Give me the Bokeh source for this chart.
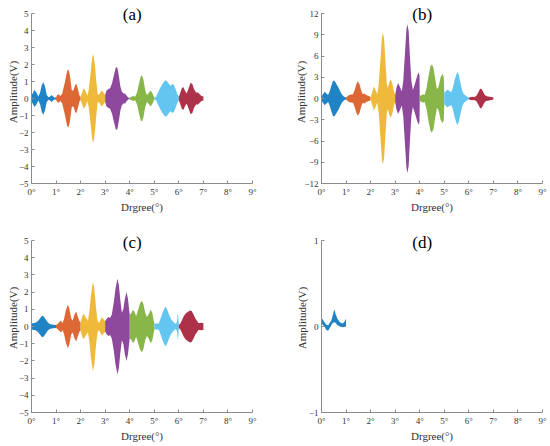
from bokeh.plotting import figure
from bokeh.models import Range1d, FixedTicker, Label
from bokeh.layouts import gridplot
from bokeh.embed import file_html
from bokeh.resources import INLINE

# ---------------- data ----------------
COLORS = ["#0072BD", "#D95319", "#EDB120", "#7E2F8E", "#77AC30", "#4DBEEE", "#A2142F"]
TITLES = ["(a)", "(b)", "(c)", "(d)"]
X_TICKS = [0, 1, 2, 3, 4, 5, 6, 7, 8, 9]
X_TICK_LABELS = ["0°", "1°", "2°", "3°", "4°", "5°", "6°", "7°", "8°", "9°"]
Y_TICKS_A = [-5, -4, -3, -2, -1, 0, 1, 2, 3, 4, 5]
Y_TICKS_B = [-12, -9, -6, -3, 0, 3, 6, 9, 12]
Y_TICKS_C = [-5, -4, -3, -2, -1, 0, 1, 2, 3, 4, 5]
Y_TICKS_D = [-1, 0, 1]

# envelope of panel (a): degree, amplitude (V)
A_DEG = [0.00, 0.05, 0.12, 0.20, 0.28, 0.35, 0.42, 0.48, 0.55, 0.62, 0.70, 0.76, 0.82, 0.88, 0.95,
         1.00, 1.05, 1.10, 1.18, 1.25, 1.35, 1.45, 1.50, 1.56, 1.64, 1.70, 1.78, 1.83, 1.90, 1.96,
         2.00, 2.05, 2.12, 2.20, 2.27, 2.33, 2.40, 2.47, 2.52, 2.58, 2.64, 2.70, 2.76, 2.85, 2.93,
         3.00, 3.05, 3.12, 3.20, 3.28, 3.36, 3.44, 3.50, 3.56, 3.62, 3.68, 3.75, 3.82, 3.88, 3.95,
         4.00, 4.06, 4.15, 4.22, 4.30, 4.38, 4.45, 4.50, 4.56, 4.63, 4.70, 4.76, 4.85, 4.93,
         5.00, 5.08, 5.15, 5.25, 5.35, 5.45, 5.52, 5.60, 5.66, 5.74, 5.80, 5.87, 5.93,
         6.00, 6.05, 6.12, 6.18, 6.25, 6.32, 6.40, 6.48, 6.55, 6.62, 6.70, 6.78, 6.85, 6.92, 7.00]
A_AMP = [0.20, 0.30, 0.50, 0.35, 0.12, 0.35, 0.80, 0.95, 0.70, 0.20, 0.08, 0.12, 0.20, 0.12, 0.05,
         0.08, 0.20, 0.25, 0.15, 0.30, 0.90, 1.60, 1.72, 1.40, 0.50, 0.45, 0.80, 0.87, 0.50, 0.15,
         0.10, 0.30, 0.60, 0.45, 0.15, 0.50, 1.40, 2.40, 2.60, 2.00, 1.00, 0.20, 0.25, 0.47, 0.35,
         0.20, 0.45, 0.55, 0.60, 0.90, 1.40, 1.85, 1.80, 1.30, 0.70, 0.40, 0.30, 0.28, 0.15, 0.05,
         0.05, 0.10, 0.15, 0.10, 0.35, 0.90, 1.30, 1.35, 1.10, 0.50, 0.20, 0.30, 0.47, 0.30,
         0.05, 0.12, 0.35, 0.65, 0.90, 1.08, 1.02, 0.85, 0.75, 0.85, 0.80, 0.55, 0.30,
         0.10, 0.30, 0.60, 0.68, 0.45, 0.30, 0.60, 0.92, 0.85, 0.55, 0.35, 0.35, 0.25, 0.15, 0.12]

# envelope of panel (b)
B_DEG = [0.00, 0.06, 0.13, 0.20, 0.27, 0.33, 0.40, 0.47, 0.53, 0.60, 0.70, 0.78, 0.85, 0.92,
         1.00, 1.05, 1.12, 1.20, 1.28, 1.35, 1.42, 1.48, 1.55, 1.62, 1.68, 1.75, 1.82, 1.90, 1.96,
         2.00, 2.06, 2.13, 2.20, 2.27, 2.33, 2.40, 2.46, 2.50, 2.55, 2.60, 2.66, 2.70, 2.76, 2.82, 2.88, 2.95,
         3.00, 3.05, 3.12, 3.20, 3.27, 3.33, 3.40, 3.46, 3.50, 3.55, 3.60, 3.66, 3.72, 3.80, 3.88, 3.95, 3.99,
         4.00, 4.05, 4.12, 4.20, 4.28, 4.36, 4.44, 4.50, 4.56, 4.63, 4.70, 4.77, 4.85, 4.93, 4.98,
         5.00, 5.05, 5.12, 5.20, 5.28, 5.35, 5.42, 5.50, 5.55, 5.60, 5.67, 5.74, 5.80, 5.88, 5.95,
         6.00, 6.08, 6.15, 6.22, 6.30, 6.38, 6.45, 6.50, 6.56, 6.63, 6.70, 6.78, 6.85, 6.92, 7.00]
B_AMP = [0.30, 0.60, 0.95, 0.70, 0.50, 1.00, 1.80, 2.50, 2.50, 2.10, 1.50, 0.90, 0.50, 0.25,
         0.15, 0.30, 0.50, 0.55, 0.60, 1.20, 2.00, 2.45, 2.00, 1.10, 0.60, 0.70, 0.50, 0.40, 0.30,
         0.20, 0.80, 1.70, 1.20, 0.60, 2.00, 5.50, 8.60, 9.30, 8.40, 5.50, 2.00, 1.50, 2.30, 2.70, 2.20, 1.00,
         0.50, 1.50, 2.20, 1.60, 1.00, 2.50, 6.50, 9.80, 10.50, 9.50, 6.00, 2.50, 1.20, 2.00, 3.00, 3.70, 3.30,
         0.50, 0.40, 0.60, 0.50, 1.50, 3.20, 4.60, 4.80, 4.30, 2.80, 1.30, 1.70, 3.00, 3.50, 3.00,
         0.80, 1.00, 1.25, 1.10, 0.90, 1.50, 2.60, 3.50, 3.70, 3.20, 2.00, 1.00, 0.60, 0.40, 0.20,
         0.10, 0.20, 0.25, 0.20, 0.35, 0.80, 1.30, 1.40, 1.10, 0.60, 0.35, 0.30, 0.25, 0.20, 0.15]

# envelope of panel (c)
C_DEG = [0.00, 0.06, 0.13, 0.20, 0.28, 0.36, 0.43, 0.50, 0.58, 0.66, 0.74, 0.82, 0.90,
         1.00, 1.06, 1.13, 1.20, 1.26, 1.32, 1.40, 1.48, 1.54, 1.62, 1.68, 1.75, 1.82, 1.88, 1.95,
         2.00, 2.05, 2.10, 2.16, 2.22, 2.30, 2.36, 2.42, 2.50, 2.56, 2.62, 2.68, 2.74, 2.80, 2.87, 2.94,
         3.00, 3.06, 3.14, 3.20, 3.27, 3.35, 3.42, 3.50, 3.56, 3.62, 3.68, 3.74, 3.80, 3.87, 3.93, 3.98,
         4.00, 4.06, 4.12, 4.18, 4.26, 4.33, 4.42, 4.50, 4.56, 4.63, 4.70, 4.77, 4.85, 4.92, 4.97,
         5.00, 5.05, 5.10, 5.16, 5.22, 5.30, 5.38, 5.45, 5.52, 5.60, 5.68, 5.75, 5.82, 5.88, 5.93, 5.96, 5.98,
         6.00, 6.05, 6.12, 6.20, 6.28, 6.36, 6.45, 6.52, 6.60, 6.68, 6.75, 6.80, 6.86, 6.92, 7.00]
C_AMP = [0.15, 0.20, 0.20, 0.25, 0.35, 0.50, 0.62, 0.58, 0.40, 0.25, 0.15, 0.12, 0.10,
         0.08, 0.15, 0.25, 0.35, 0.20, 0.40, 0.95, 1.26, 1.05, 0.45, 0.35, 0.70, 0.87, 0.60, 0.30,
         0.25, 0.50, 0.72, 0.65, 0.50, 0.35, 0.90, 1.80, 2.58, 2.20, 1.20, 0.40, 0.20, 0.35, 0.54, 0.40,
         0.30, 0.45, 0.55, 0.50, 0.70, 1.40, 2.20, 2.77, 2.40, 1.50, 0.80, 1.00, 1.60, 2.00, 1.60, 0.90,
         0.70, 0.75, 0.95, 0.90, 0.60, 0.90, 1.35, 1.50, 1.30, 0.80, 0.55, 0.70, 0.97, 0.80, 0.40,
         0.20, 0.15, 0.20, 0.15, 0.30, 0.65, 0.95, 1.16, 1.00, 0.70, 0.45, 0.30, 0.20, 0.15, 0.30, 0.83, 0.50,
         0.10, 0.15, 0.35, 0.60, 0.75, 0.85, 0.93, 0.90, 0.70, 0.45, 0.30, 0.20, 0.20, 0.22, 0.20]

# band of panel (d): degree, upper and lower edge (V)
D_DEG = [0.00, 0.05, 0.12, 0.20, 0.27, 0.33, 0.40, 0.46, 0.52, 0.58, 0.65, 0.75, 0.85, 0.92, 1.00]
D_UP = [0.10, 0.08, 0.05, 0.02, 0.015, 0.04, 0.07, 0.13, 0.20, 0.14, 0.09, 0.05, 0.035, 0.05, 0.09]
D_LO = [0.035, 0.02, 0.0, -0.04, -0.05, -0.02, 0.015, 0.04, 0.05, 0.04, 0.015, 0.0, -0.01, -0.005, 0.0]

FONT = "Liberation Serif"
AXIS_GRAY = "#8c8c8c"
TEXT_GRAY = "#333333"


def segments(deg, up, lo):
    out = []
    for k in range(len(COLORS)):
        idx = [i for i, d in enumerate(deg) if k <= d <= k + 1]
        if len(idx) < 2:
            continue
        out.append((k, [deg[i] for i in idx], [up[i] for i in idx], [lo[i] for i in idx]))
    return out


def make_panel(title, deg, up, lo, ylo, yhi, yticks, width, height, ml, mr, mb,
               top_gap, title_gap, ylabel_standoff):
    # frame reaches the figure top; the axis itself stops at yhi, top_gap px below the frame top
    frame_h = height - mb
    per_px = (yhi - ylo) / (frame_h - top_gap)
    y_top = yhi + top_gap * per_px
    p = figure(width=width, height=height, x_range=Range1d(0, 9), y_range=Range1d(ylo, y_top),
               output_backend="svg", toolbar_location=None,
               min_border_left=ml, min_border_right=mr, min_border_top=0, min_border_bottom=mb)
    p.outline_line_color = None
    p.grid.visible = False
    p.background_fill_color = "white"
    for k, xs, u, l in segments(deg, up, lo):
        p.varea(x=xs, y1=l, y2=u, fill_color=COLORS[k], fill_alpha=0.88)

    p.xaxis.ticker = FixedTicker(ticks=X_TICKS)
    p.xaxis.major_label_overrides = {t: s for t, s in zip(X_TICKS, X_TICK_LABELS)}
    p.yaxis.ticker = FixedTicker(ticks=yticks)
    p.yaxis.bounds = (ylo, yhi)
    p.xaxis.axis_label = "Drgree(°)"
    p.yaxis.axis_label = "Amplitude(V)"
    for ax in (p.xaxis[0], p.yaxis[0]):
        ax.axis_line_color = AXIS_GRAY
        ax.axis_line_width = 1
        ax.major_tick_line_color = AXIS_GRAY
        ax.major_tick_in = 3
        ax.major_tick_out = 0
        ax.minor_tick_line_color = None
        ax.major_label_text_font = FONT
        ax.major_label_text_font_size = "9px"
        ax.major_label_text_color = TEXT_GRAY
        ax.major_label_standoff = 3
        ax.axis_label_text_font = FONT
        ax.axis_label_text_font_size = "11px"
        ax.axis_label_text_font_style = "normal"
        ax.axis_label_text_color = TEXT_GRAY
        ax.axis_label_standoff = 1
    p.yaxis[0].axis_label_standoff = ylabel_standoff
    p.add_layout(Label(x=4.1, y=y_top - title_gap * per_px, text=title, text_font=FONT,
                       text_font_size="17px", text_align="center", text_baseline="middle",
                       text_color="black"))
    return p


pa = make_panel(TITLES[0], A_DEG, A_AMP, [-v for v in A_AMP], -5, 5, Y_TICKS_A,
                275, 223, 31, 23, 40, 13, 14, -3)
pb = make_panel(TITLES[1], B_DEG, B_AMP, [-v for v in B_AMP], -12, 12, Y_TICKS_B,
                274, 223, 46, 7, 40, 13, 14, -6)
pc = make_panel(TITLES[2], C_DEG, C_AMP, [-v for v in C_AMP], -5, 5, Y_TICKS_C,
                275, 222, 31, 23, 33, 17, 19, -3)
pd = make_panel(TITLES[3], D_DEG, D_UP, D_LO, -1, 1, Y_TICKS_D,
                274, 222, 46, 7, 33, 17, 19, -2)

grid = gridplot([[pa, pb], [pc, pd]], toolbar_location=None)
open("out.html", "w").write(file_html(grid, INLINE))
